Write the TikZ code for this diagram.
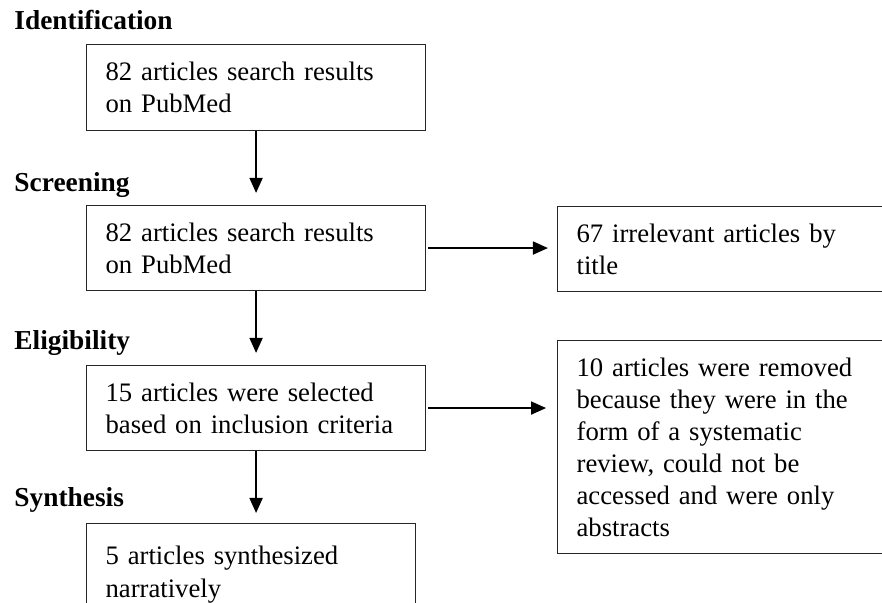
\documentclass[tikz,border=0pt]{standalone}
\usepackage{fontspec}
\setmainfont{Liberation Serif}
\usetikzlibrary{arrows.meta}

\begin{document}
\begin{tikzpicture}[x=0.431pt,y=-0.431pt,
  box/.style={draw=black!85,line width=0.5pt,rectangle,anchor=north west,align=left,
    inner xsep=8.2pt,inner ysep=0pt,font=\fontsize{11.5}{13.8}\selectfont},
  stage/.style={anchor=base west,inner sep=0pt,font=\fontsize{11.8}{13.8}\selectfont\bfseries},
  arr/.style={line width=0.85pt,-{Triangle[length=6.5pt,width=5.6pt]}}]
\clip (0,0) rectangle (882,603);
% stage labels
\node[stage] (ident) at (14,30) {Identification};
\node[stage] (scrn) at (14,192) {Screening};
\node[stage] (elig) at (14,349) {Eligibility};
\node[stage] (synt) at (14,506) {Synthesis};
% main column
\node[box,text width=129.7pt,minimum height=37.1pt] (found) at (86,44) {82 articles search results\\on PubMed};
\node[box,text width=129.7pt,minimum height=36.6pt] (screened) at (86,205) {82 articles search results\\on PubMed};
\node[box,text width=129.7pt,minimum height=36.6pt] (selected) at (86,365) {15 articles were selected\\based on inclusion criteria};
\node[box,text width=125.4pt,minimum height=44pt] (synth) at (86,523) {5 articles synthesized\\narratively};
% excluded
\node[box,text width=155.6pt,minimum height=36.6pt] (irrel) at (557,206) {67 irrelevant articles by\\title};
\node[box,text width=155.6pt,minimum height=91.8pt] (removed) at (557,340) {10 articles were removed\\because they were in the\\form of a systematic\\review, could not be\\accessed and were only\\abstracts};
% arrows
\draw[arr,shorten >=5.2pt] (found) -- (screened);
\draw[arr,shorten >=5.2pt] (screened) -- (selected);
\draw[arr,shorten >=4.3pt] (selected.south) -- (selected.south |- synth.north);
\draw[arr,shorten <=0.9pt,shorten >=3.9pt] (screened.east) -- (screened.east -| irrel.west);
\draw[arr,shorten <=0.9pt,shorten >=4.7pt] (selected.east) -- (selected.east -| removed.west);
\end{tikzpicture}
\end{document}
